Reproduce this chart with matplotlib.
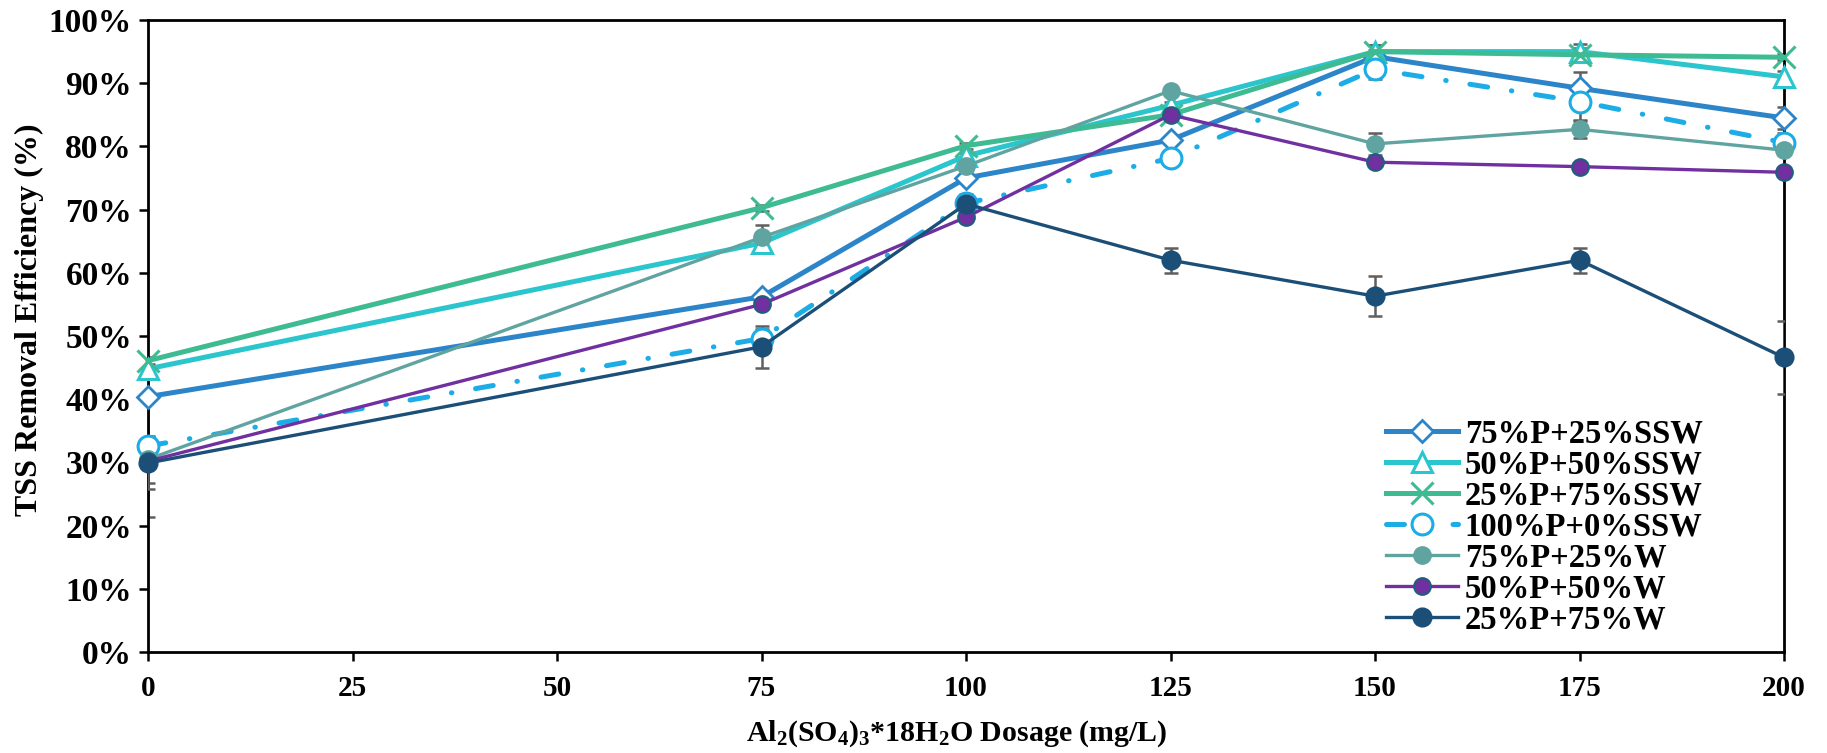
import matplotlib
matplotlib.use("Agg")
import matplotlib.pyplot as plt
from matplotlib.ticker import FuncFormatter, MultipleLocator

plt.rcParams['font.family'] = ['Liberation Serif', 'DejaVu Serif']
plt.rcParams['font.weight'] = 'bold'
plt.rcParams['mathtext.fontset'] = 'custom'
plt.rcParams['mathtext.rm'] = 'Liberation Serif:bold'
plt.rcParams['mathtext.it'] = 'Liberation Serif:bold'
plt.rcParams['mathtext.bf'] = 'Liberation Serif:bold'
plt.rcParams['mathtext.default'] = 'rm'

# ---- data ----
dosage = [0, 75, 100, 125, 150, 175, 200]
labels = ['75%P+25%SSW', '50%P+50%SSW', '25%P+75%SSW', '100%P+0%SSW',
          '75%P+25%W', '50%P+50%W', '25%P+75%W']
p75_ssw25 = [40.4, 56.2, 75.0, 81.0, 94.2, 89.2, 84.5]
p50_ssw50 = [44.8, 64.7, 78.5, 86.5, 95.0, 95.0, 91.0]
p25_ssw75 = [46.1, 70.3, 80.1, 85.0, 95.0, 94.5, 94.1]
p100_ssw0 = [32.6, 49.6, 71.0, 78.1, 92.2, 87.1, 80.6]
p75_w25 = [30.5, 65.6, 76.9, 88.8, 80.4, 82.7, 79.4]
p50_w50 = [30.2, 55.0, 68.8, 85.0, 77.5, 76.8, 75.9]
p25_w75 = [29.9, 48.3, 70.9, 62.0, 56.3, 62.0, 46.6]

err_p75_ssw25 = [0.5, 0.5, 0.5, 0.5, 1.0, 2.5, 1.8]
err_p50_ssw50 = [0.5, 0.5, 0.5, 0.5, 1.0, 1.2, 1.0]
err_p25_ssw75 = [0.5, 0.5, 0.5, 0.5, 1.0, 1.0, 0.5]
err_p100_ssw0 = [11.2, 1.5, 0.5, 0.5, 1.5, 3.0, 1.5]
err_p75_w25 = [3.7, 1.9, 0.5, 0.5, 1.7, 1.3, 0.8]
err_p50_w50 = [0.5, 0.5, 0.5, 0.5, 0.5, 0.5, 0.5]
err_p25_w75 = [4.1, 3.3, 1.6, 2.0, 3.2, 2.0, 5.8]

series = [p75_ssw25, p50_ssw50, p25_ssw75, p100_ssw0, p75_w25, p50_w50, p25_w75]
errors = [err_p75_ssw25, err_p50_ssw50, err_p25_ssw75, err_p100_ssw0,
          err_p75_w25, err_p50_w50, err_p25_w75]

colors = ['#2C85C8', '#2AC5CD', '#3FBB94', '#1CADE6', '#5FA4A0', '#7030A0', '#1B4F78']
styles = [
    dict(marker='D', ms=11, mfc='white', mec='#2C85C8', mew=2.0, lw=3.6, ls='-'),
    dict(marker='^', ms=14, mfc='white', mec='#2AC5CD', mew=2.2, lw=3.6, ls='-'),
    dict(marker='x', ms=16, mec='#3FBB94', mew=2.2, lw=3.6, ls='-'),
    dict(marker='o', ms=15, mfc='white', mec='#1CADE6', mew=2.2, lw=3.6,
         ls=(0, (3.6, 4.8, 0.1, 4.8)), dash_capstyle='round'),
    dict(marker='o', ms=12, mfc='#5FA4A0', mec='#5FA4A0', mew=1.5, lw=2.4, ls='-'),
    dict(marker='o', ms=12, mfc='#7030A0', mec='#1D5F7C', mew=1.5, lw=2.4, ls='-'),
    dict(marker='o', ms=13, mfc='#1B4F78', mec='#1B4F78', mew=1.5, lw=2.4, ls='-'),
]

W, H = 1827, 753
fig = plt.figure(figsize=(W / 100, H / 100), dpi=100)
ax = fig.add_axes([148 / W, 1 - 652 / H, (1784 - 148) / W, (652 - 20) / H])

handles = []
for i, (y, e, c, st) in enumerate(zip(series, errors, colors, styles)):
    ax.errorbar(dosage, y, yerr=e, fmt='none', ecolor='#5F5F5F', elinewidth=1.8,
                capsize=5, capthick=1.8, zorder=2 + i * 0.1)
    h, = ax.plot(dosage, y, color=c, label=labels[i], zorder=3 + i * 0.1,
                 clip_on=False, **st)
    handles.append(h)

ax.set_xlim(0, 200)
ax.set_ylim(0, 100)
ax.xaxis.set_major_locator(MultipleLocator(25))
ax.yaxis.set_major_locator(MultipleLocator(10))
ax.yaxis.set_major_formatter(FuncFormatter(lambda v, p: f'{v:.0f}%'))

for s in ax.spines.values():
    s.set_linewidth(2.0)
    s.set_color('black')
ax.tick_params(axis='both', direction='out', length=6.5, width=1.8, colors='black')
ax.tick_params(axis='y', labelsize=24, pad=5)
ax.tick_params(axis='x', labelsize=21, pad=10)
for lab in ax.get_xticklabels() + ax.get_yticklabels():
    lab.set_fontweight('bold')

fig.text(29 / W, 1 - 320 / H, 'TSS Removal Efficiency (%)', rotation=90,
         ha='center', va='center', fontsize=23, fontweight='bold')
fig.text(957 / W, 1 - 734 / H, r'Al$_2$(SO$_4$)$_3$*18H$_2$O Dosage (mg/L)',
         ha='center', va='center', fontsize=21.5, fontweight='bold')

leg = ax.legend(handles=handles, loc='upper left', bbox_to_anchor=(0.757, 0.37),
                frameon=False, prop=dict(size=23.5, weight='bold'),
                handlelength=2.2, handletextpad=0.2, labelspacing=0.0,
                borderaxespad=0, borderpad=0)

fig.savefig('out.png', dpi=100)
